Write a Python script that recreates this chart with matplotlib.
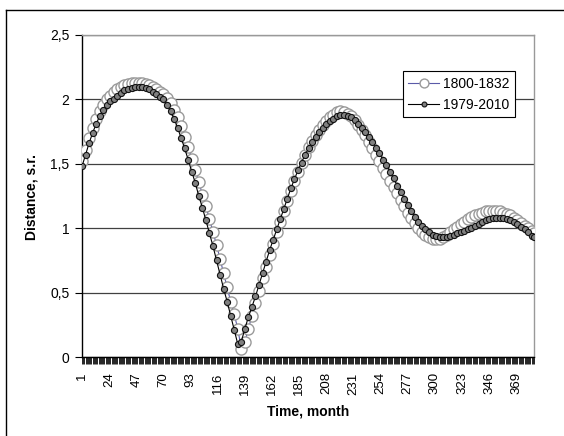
import numpy as np
import matplotlib.pyplot as plt
from matplotlib.lines import Line2D

# [DATA] ======================================================================
# months sampled every 3rd category, last month = 384
months = np.r_[np.arange(1, 383, 3), 384]

dist_1979 = [
    1.48, 1.57, 1.66, 1.74, 1.81, 1.87, 1.92, 1.96, 1.99, 2.00,
    2.03, 2.05, 2.07, 2.08, 2.09, 2.10, 2.10, 2.10, 2.09, 2.08,
    2.06, 2.04, 2.02, 2.00, 1.96, 1.91, 1.85, 1.78, 1.70, 1.62,
    1.53, 1.44, 1.35, 1.25, 1.16, 1.06, 0.96, 0.86, 0.75, 0.64,
    0.53, 0.43, 0.32, 0.21, 0.10, 0.12, 0.22, 0.31, 0.39, 0.47,
    0.56, 0.65, 0.74, 0.83, 0.91, 0.99, 1.07, 1.15, 1.23, 1.31,
    1.38, 1.45, 1.51, 1.57, 1.62, 1.67, 1.71, 1.75, 1.78, 1.81,
    1.83, 1.85, 1.87, 1.88, 1.88, 1.87, 1.86, 1.84, 1.81, 1.78,
    1.75, 1.71, 1.67, 1.62, 1.58, 1.53, 1.49, 1.44, 1.39, 1.33,
    1.28, 1.23, 1.18, 1.13, 1.09, 1.05, 1.02, 0.99, 0.97, 0.95,
    0.94, 0.93, 0.93, 0.93, 0.94, 0.95, 0.96, 0.97, 0.98, 0.99,
    1.00, 1.02, 1.03, 1.05, 1.06, 1.07, 1.08, 1.08, 1.08, 1.08,
    1.07, 1.06, 1.05, 1.03, 1.01, 0.99, 0.97, 0.94, 0.93,
]

dist_1800 = [
    1.52, 1.61, 1.70, 1.78, 1.85, 1.91, 1.96, 2.00, 2.03, 2.06,
    2.08, 2.10, 2.11, 2.12, 2.13, 2.13, 2.13, 2.13, 2.12, 2.11,
    2.10, 2.08, 2.06, 2.04, 2.01, 1.97, 1.92, 1.86, 1.79, 1.71,
    1.63, 1.54, 1.45, 1.36, 1.26, 1.17, 1.07, 0.97, 0.87, 0.76,
    0.65, 0.54, 0.43, 0.33, 0.22, 0.06, 0.12, 0.22, 0.32, 0.42,
    0.51, 0.61, 0.70, 0.79, 0.88, 0.97, 1.05, 1.13, 1.21, 1.29,
    1.37, 1.44, 1.51, 1.57, 1.63, 1.68, 1.72, 1.76, 1.80, 1.83,
    1.86, 1.88, 1.90, 1.91, 1.90, 1.89, 1.87, 1.84, 1.80, 1.76,
    1.72, 1.67, 1.62, 1.57, 1.52, 1.47, 1.42, 1.37, 1.32, 1.27,
    1.22, 1.17, 1.12, 1.08, 1.04, 1.00, 0.97, 0.95, 0.93, 0.92,
    0.92, 0.92, 0.93, 0.95, 0.97, 0.99, 1.01, 1.03, 1.05, 1.07,
    1.09, 1.10, 1.11, 1.12, 1.13, 1.13, 1.13, 1.13, 1.13, 1.12,
    1.11, 1.10, 1.08, 1.06, 1.04, 1.02, 1.00, 0.98, 0.96,
]

x_labels = [1, 24, 47, 70, 93, 116, 139, 162, 185, 208, 231, 254, 277, 300,
            323, 346, 369]
y_ticks = [0, 0.5, 1, 1.5, 2, 2.5]
y_labels = ['0', '0,5', '1', '1,5', '2', '2,5']
n_months = 384

# [END DATA] ==================================================================



# [PLOTTING] ==================================================================
plt.rcParams['font.family'] = ['Liberation Sans', 'DejaVu Sans']
plt.rcParams['font.size'] = 9

fig = plt.figure(figsize=(5.64, 4.36), dpi=100)
ax = fig.add_axes([82/564, 1 - 357/436, 452/564, 322/436])

# outer chart border (only left and top visible in the crop)
fig.add_artist(Line2D([6/564, 6/564], [0, 1 - 10/436], color='black', lw=1))
fig.add_artist(Line2D([6/564, 1], [1 - 10/436, 1 - 10/436], color='black', lw=1))

ax.grid(True, axis='y', color='#404040', lw=0.9)
ax.set_axisbelow(True)

ax.plot(months, dist_1800, '-', color='#5a5aa8', lw=0.8, marker='o',
        markersize=8.0, markerfacecolor='white', markeredgecolor='#9a9a9a',
        markeredgewidth=1.0, label='1800-1832', zorder=3)
ax.plot(months, dist_1979, '-', color='black', lw=0.8, marker='o',
        markersize=4.4, markerfacecolor='#808080', markeredgecolor='#111111',
        markeredgewidth=0.8, label='1979-2010', zorder=4)

ax.set_xlim(1, n_months)
ax.set_ylim(0, 2.5)
ax.set_yticks(y_ticks)
ax.set_yticklabels(y_labels, fontsize=10)
ax.set_xticks(x_labels)
ax.set_xticklabels([str(v) for v in x_labels], rotation=90, fontsize=9.5)
ax.set_xticks(np.arange(1, n_months + 1), minor=True)
ax.tick_params(axis='x', which='both', direction='out', length=5, width=0.6,
               color='black', pad=6)
ax.tick_params(axis='y', direction='out', length=5, width=0.8, pad=4)

for side in ['top', 'right']:
    ax.spines[side].set_color('#999999')
    ax.spines[side].set_linewidth(1)
for side in ['left', 'bottom']:
    ax.spines[side].set_color('black')
    ax.spines[side].set_linewidth(1)

fig.text(308/564, 1 - 411/436, 'Time, month', ha='center', va='center',
         fontweight='bold', fontsize=10)
fig.text(31/564, 1 - 197/436, 'Distance, s.r.', ha='center', va='center',
         rotation=90, fontweight='bold', fontsize=10)

leg = ax.legend(loc='upper left', bbox_to_anchor=(0.710, 0.888),
                borderaxespad=0, fancybox=False, framealpha=1,
                edgecolor='black', markerscale=0.8, handlelength=2.2,
                handletextpad=0.3, borderpad=0.4, labelspacing=0.5,
                fontsize=10)
leg.get_frame().set_linewidth(0.8)

fig.savefig('out.png', dpi=100)

# [END PLOTTING] ==============================================================
